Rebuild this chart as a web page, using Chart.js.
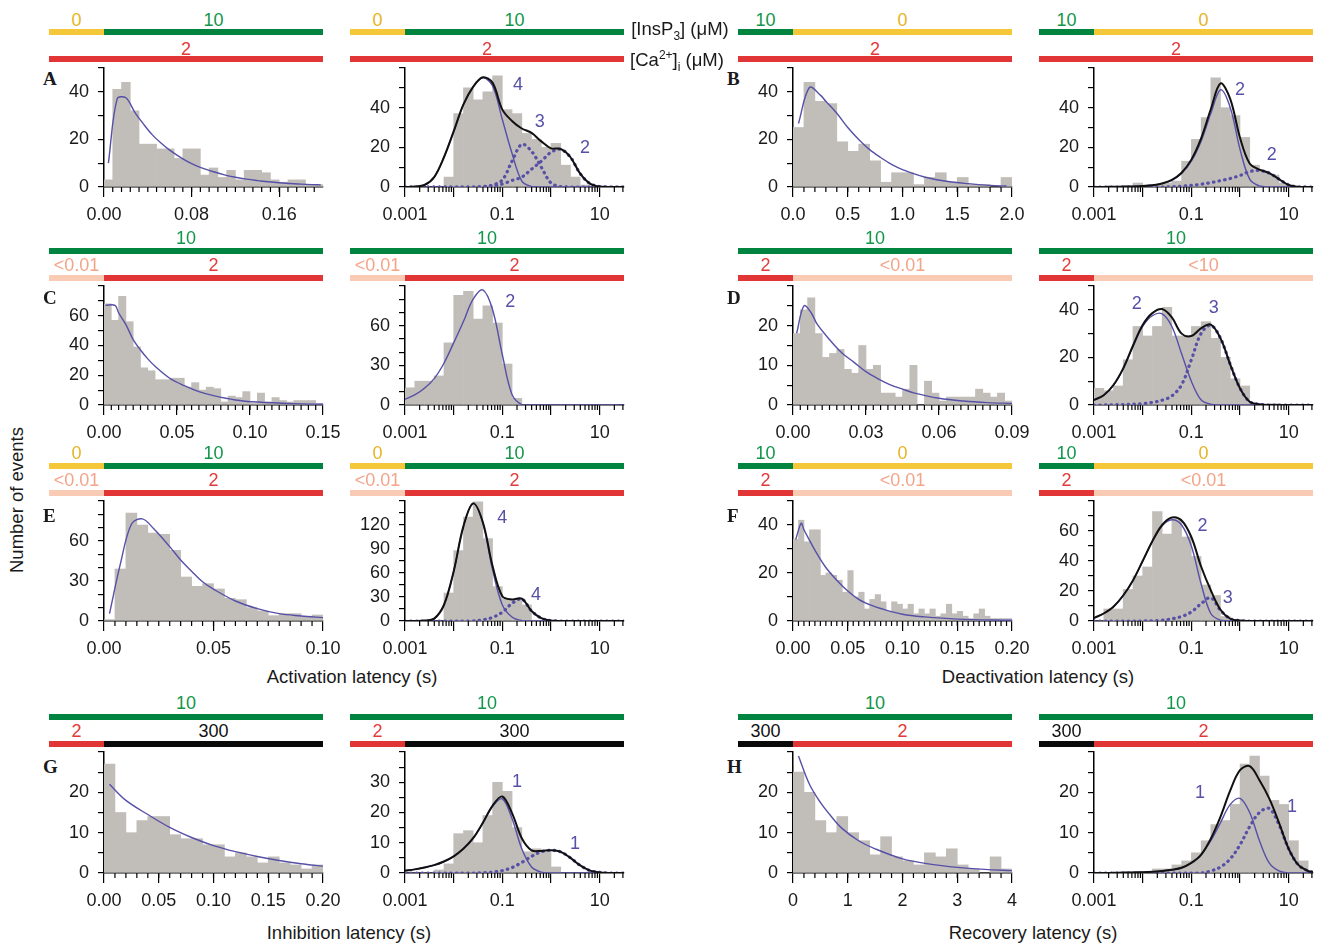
<!DOCTYPE html>
<html>
<head>
<meta charset="utf-8">
<title>Latency histograms</title>
<script src="https://cdn.jsdelivr.net/npm/chart.js@4.4.1/dist/chart.umd.min.js"></script>
<style>
  html, body { margin: 0; padding: 0; background: #fff; }
  body { position: relative; width: 1317px; height: 946px; overflow: hidden;
         font-family: "Liberation Sans", Arial, Helvetica, sans-serif; color: #1a1a1a; }
  canvas { position: absolute; }
  .bar { position: absolute; height: 6px; }
  .lab { position: absolute; font-size: 18px; line-height: 18px; transform: translate(-50%, -50%); white-space: nowrap; }
  .letter { position: absolute; font-family: "Liberation Serif", "Times New Roman", serif; font-weight: bold; font-size: 19px; line-height: 19px; }
  .title { position: absolute; font-size: 18.5px; line-height: 20px; transform: translate(-50%, -50%); white-space: nowrap; }
  .note { position: absolute; font-size: 18px; line-height: 18px; color: #5650a6; transform: translate(-50%, -50%); }
  sub, sup { font-size: 12px; line-height: 0; }
</style>
</head>
<body>
<script>
// shared log-axis grids (seconds)
const logBinX = [0.00126, 0.002, 0.00316, 0.00501, 0.00794, 0.0126, 0.02, 0.0316, 0.0501, 0.0794, 0.126,
                 0.2, 0.316, 0.501, 0.794, 1.26, 2, 3.16, 5.01, 7.94, 12.6, 20];
const logFitX = [0.001, 0.00158, 0.00251, 0.00398, 0.00631, 0.01, 0.0158, 0.0251, 0.0398, 0.0631, 0.1, 0.158,
                 0.251, 0.398, 0.631, 1, 1.58, 2.51, 3.98, 6.31, 10, 15.8, 25.1, 31.6];
const logTickVals = [0.001, 0.01, 0.1, 1, 10];
const logTickText = ['0.001', '', '0.1', '', '10'];

// A: activation, InsP3 0 -> 10, Ca 2
const a1BinX = [0.004, 0.012, 0.020, 0.028, 0.036, 0.044, 0.052, 0.060, 0.068, 0.076, 0.084, 0.092, 0.100,
                0.108, 0.116, 0.124, 0.132, 0.140, 0.148, 0.156, 0.164, 0.172, 0.180, 0.188, 0.196];
const a1Counts = [3, 41, 44, 32, 18, 18, 16, 16, 12, 16, 16, 5, 8, 4, 7, 3, 7, 7, 6, 3, 2, 3, 3, 1, 1];
const a1FitX = [0.004, 0.012, 0.020, 0.028, 0.036, 0.044, 0.052, 0.060, 0.068, 0.076, 0.084, 0.092, 0.100,
                0.110, 0.120, 0.130, 0.140, 0.150, 0.160, 0.170, 0.180, 0.190, 0.198];
const a1FitY = [10, 37, 37.5, 31.5, 26.5, 22, 18.5, 15.5, 13, 10.8, 9, 7.6, 6.4, 5.1, 4.1, 3.3, 2.7, 2.2, 1.8, 1.5, 1.2, 1.0, 0.9];
const a1TickVals = [0, 0.08, 0.16];
const a1TickText = ['0.00', '0.08', '0.16'];

const a2Counts = [0, 0, 0, 0, 5, 37, 50, 44, 48, 56, 39, 37, 27, 24, 20, 22, 11, 5, 1, 0, 0, 0];
const a2Fast = [0, 0.2, 1, 5, 15, 28, 41.5, 50.5, 55, 51, 34, 17, 3, 0.3, 0, 0, 0, 0, 0, 0, 0, 0, 0, 0];
const a2Mid = [0, 0, 0, 0, 0, 0, 0, 0, 0.2, 1, 3.5, 13, 21.5, 18, 10, 2, 0.2, 0, 0, 0, 0, 0, 0, 0];
const a2Slow = [0, 0, 0, 0, 0, 0, 0, 0, 0.1, 0.5, 1.5, 3.3, 5, 9, 13, 17.5, 19, 15, 6.7, 1.7, 0.2, 0, 0, 0];
const a2Total = [0, 0.2, 1, 5, 15, 28, 41.5, 50.5, 55.3, 52.5, 39, 33.3, 29.5, 27.3, 23, 19.5, 19.2, 15, 6.7, 1.7, 0.2, 0, 0, 0];

// B: deactivation, InsP3 10 -> 0, Ca 2
const b1BinX = [0.05, 0.15, 0.25, 0.35, 0.45, 0.55, 0.65, 0.75, 0.85, 0.95, 1.05, 1.15, 1.25, 1.35, 1.45,
                1.55, 1.65, 1.75, 1.85, 1.95];
const b1Counts = [25, 44, 36, 35, 19, 15, 18, 11, 2, 6, 6, 1, 4, 6, 2, 4, 1, 1, 0, 4];
const b1FitX = [0.05, 0.15, 0.25, 0.3, 0.4, 0.5, 0.6, 0.7, 0.8, 0.9, 1.0, 1.2, 1.4, 1.6, 1.8, 1.95];
const b1FitY = [26.7, 41.8, 38.6, 36, 31, 25, 20, 15.7, 12.4, 9.5, 7.3, 4.2, 2.4, 1.4, 0.7, 0.4];
const b1TickVals = [0, 0.5, 1, 1.5, 2];
const b1TickText = ['0.0', '0.5', '1.0', '1.5', '2.0'];

const b2Counts = [0, 0, 0, 0, 2, 1, 1, 2, 3, 13, 24, 35, 55, 40, 36, 25, 11, 8, 6, 2, 0, 0];
const b2Fast = [0, 0.05, 0.1, 0.2, 0.3, 0.5, 0.9, 1.8, 3.4, 6.8, 13, 23, 37, 49, 40, 19, 4, 0.5, 0, 0, 0, 0, 0, 0];
const b2Slow = [0, 0, 0, 0, 0, 0, 0, 0, 0.2, 0.4, 0.8, 1.4, 2.2, 3.2, 4.3, 5.8, 7.8, 8.3, 7, 4, 1, 0.1, 0, 0];
const b2Total = [0, 0.05, 0.1, 0.2, 0.3, 0.5, 0.9, 1.8, 3.6, 7.2, 13.8, 24.4, 39.2, 52.2, 44.3, 24.8, 11.8, 8.8, 7, 4, 1, 0.1, 0, 0];

// C: activation, InsP3 10, Ca <0.01 -> 2
const c1BinX = [0.0025, 0.0075, 0.0125, 0.0175, 0.0225, 0.0275, 0.0325, 0.0375, 0.0425, 0.0475, 0.0525,
                0.0575, 0.0625, 0.0675, 0.0725, 0.0775, 0.0825, 0.0875, 0.0925, 0.0975, 0.1025, 0.1075,
                0.1125, 0.1175, 0.1225, 0.1275, 0.1325, 0.1375, 0.1425, 0.1475];
const c1Counts = [68, 57, 73, 56, 39, 25, 23, 17, 17, 18, 18, 12, 15, 10, 12, 11, 2, 6, 5, 9, 1, 8, 2, 5, 3, 2, 3, 3, 3, 1];
const c1FitX = [0.001, 0.0075, 0.01, 0.015, 0.02, 0.025, 0.03, 0.035, 0.045, 0.055, 0.065, 0.075, 0.09, 0.105, 0.13, 0.15];
const c1FitY = [67, 67, 62, 54, 44, 37, 31, 26, 18, 13, 9, 6.3, 3.4, 2, 0.9, 0.5];
const c1TickVals = [0, 0.05, 0.1, 0.15];
const c1TickText = ['0.00', '0.05', '0.10', '0.15'];

const c2Counts = [13, 18, 18, 22, 47, 83, 86, 65, 75, 62, 31, 5, 0, 0, 0, 0, 0, 0, 0, 0, 0, 0];
const c2Fit = [4.3, 7.6, 12.7, 20, 31.6, 47, 63, 80, 87, 72, 38, 8, 0.3, 0, 0, 0, 0, 0, 0, 0, 0, 0, 0, 0];

// D: deactivation, InsP3 10, Ca 2 -> <0.01
const d1BinX = [0.0015, 0.0045, 0.0075, 0.0105, 0.0135, 0.0165, 0.0195, 0.0225, 0.0255, 0.0285, 0.0315,
                0.0345, 0.0375, 0.0405, 0.0435, 0.0465, 0.0495, 0.0525, 0.0555, 0.0585, 0.0615, 0.0645,
                0.0675, 0.0705, 0.0735, 0.0765, 0.0795, 0.0825, 0.0855, 0.0885];
const d1Counts = [18, 24, 27, 18, 12, 13, 14, 9, 8, 15, 9, 10, 3, 3, 2, 4, 10, 0, 6, 3, 1, 2, 2, 2, 2, 4, 3, 2, 3, 1];
const d1FitX = [0.0015, 0.0045, 0.0075, 0.01, 0.015, 0.02, 0.025, 0.03, 0.035, 0.04, 0.045, 0.05, 0.06, 0.07, 0.08, 0.09];
const d1FitY = [18.1, 25, 23.2, 20.3, 16.5, 13.2, 10.8, 8.4, 6.6, 5.1, 4, 3, 1.7, 1, 0.6, 0.4];
const d1TickVals = [0, 0.03, 0.06, 0.09];
const d1TickText = ['0.00', '0.03', '0.06', '0.09'];

const d2Counts = [7, 6, 8, 19, 33, 29, 33, 41, 29, 29, 33, 35, 28, 20, 11, 8, 0, 0, 0.6, 0, 0, 0];
const d2Fast = [2.1, 4.1, 8.3, 15.2, 24.5, 33, 37.5, 38.3, 33, 21.5, 10, 2.2, 0.3, 0, 0, 0, 0, 0, 0, 0, 0, 0, 0, 0];
const d2Slow = [0, 0, 0.1, 0.2, 0.4, 0.6, 1.1, 2, 3.8, 8.5, 19, 30, 33.5, 28, 17, 7, 1.4, 0.3, 0, 0, 0, 0, 0, 0];
const d2Total = [2.1, 4.1, 8.4, 15.4, 24.9, 33.6, 38.6, 40.3, 36.8, 30, 29, 32.2, 33.8, 28, 17, 7, 1.4, 0.3, 0, 0, 0, 0, 0, 0];

// E: activation, InsP3 0 -> 10, Ca <0.01 -> 2
const e1BinX = [0.0025, 0.0075, 0.0125, 0.0175, 0.0225, 0.0275, 0.0325, 0.0375, 0.0425, 0.0475, 0.0525,
                0.0575, 0.0625, 0.0675, 0.0725, 0.0775, 0.0825, 0.0875, 0.0925, 0.0975];
const e1Counts = [1, 39, 81, 72, 66, 65, 53, 33, 26, 28, 24, 17, 16, 10, 7.5, 4, 5.5, 5.5, 3, 4.5];
const e1FitX = [0.0025, 0.0075, 0.0125, 0.0175, 0.0225, 0.03, 0.035, 0.04, 0.045, 0.05, 0.06, 0.07, 0.08, 0.09, 0.1];
const e1FitY = [5.5, 43, 72.6, 76.6, 69.6, 55.8, 45.7, 37.4, 29.4, 23.9, 15, 9.3, 5.5, 3.8, 2.5];
const e1TickVals = [0, 0.05, 0.1];
const e1TickText = ['0.00', '0.05', '0.10'];

const e2Counts = [0, 0, 0, 0, 35, 88, 130, 149, 103, 43, 27, 27, 20, 1, 0, 0, 0, 0, 0, 0, 0, 0];
const e2Fast = [0, 0.1, 0.5, 3, 20, 62, 118, 147, 122, 64, 20, 5, 0.5, 0, 0, 0, 0, 0, 0, 0, 0, 0, 0, 0];
const e2Slow = [0, 0, 0, 0, 0, 0, 0, 0, 1.5, 4.5, 11, 22, 27.5, 12.5, 3.5, 0.5, 0, 0, 0, 0, 0, 0, 0, 0];
const e2Total = [0, 0.1, 0.5, 3, 20, 62, 118, 147, 123.5, 68.5, 31, 27, 28, 12.5, 3.5, 0.5, 0, 0, 0, 0, 0, 0, 0, 0];

// F: deactivation, InsP3 10 -> 0, Ca 2 -> <0.01
const f1BinX = [0.0025, 0.0075, 0.0125, 0.0175, 0.0225, 0.0275, 0.0325, 0.0375, 0.0425, 0.0475, 0.0525,
                0.0575, 0.0625, 0.0675, 0.0725, 0.0775, 0.0825, 0.0875, 0.0925, 0.0975, 0.1025, 0.1075,
                0.1125, 0.1175, 0.1225, 0.1275, 0.1325, 0.1375, 0.1425, 0.1475, 0.1525, 0.1575, 0.1625,
                0.1675, 0.1725, 0.1775, 0.1825, 0.1875, 0.1925, 0.1975];
const f1Counts = [34, 42, 33, 38, 38, 19, 20, 19, 17, 12, 21, 10, 12, 5, 9, 11, 8, 4, 8, 7, 5, 7, 3, 5, 3,
                  5, 2, 3, 7, 3, 4, 2, 1, 3, 5, 2, 1, 1, 1, 1];
const f1FitX = [0.0025, 0.0075, 0.01, 0.015, 0.02, 0.03, 0.04, 0.05, 0.06, 0.07, 0.08, 0.1, 0.12, 0.15, 0.2];
const f1FitY = [34, 40.7, 38, 33.7, 29.5, 22.3, 17, 12.5, 9, 6.8, 5.2, 2.8, 1.7, 0.8, 0.3];
const f1TickVals = [0, 0.05, 0.1, 0.15, 0.2];
const f1TickText = ['0.00', '0.05', '0.10', '0.15', '0.20'];

const f2Counts = [0, 8, 8, 21, 30, 36, 73, 58, 68, 56, 43, 24, 17, 3, 0, 0, 0, 0, 0, 0, 0, 0];
const f2Fast = [2, 5, 9.5, 17, 27, 40, 53, 63.5, 67.5, 64, 50, 25, 5, 0.5, 0, 0, 0, 0, 0, 0, 0, 0, 0, 0];
const f2Slow = [0, 0, 0, 0, 0, 0, 0.2, 0.5, 1.5, 3, 6, 11.5, 15.5, 7, 1.5, 0.3, 0, 0, 0, 0, 0, 0, 0, 0];
const f2Total = [2, 5, 9.5, 17, 27, 40, 53.2, 64, 69, 67, 56, 36.5, 20.5, 7.5, 1.5, 0.3, 0, 0, 0, 0, 0, 0, 0, 0];

// G: inhibition, InsP3 10, Ca 2 -> 300
const g1BinX = [0.005, 0.015, 0.025, 0.035, 0.045, 0.055, 0.065, 0.075, 0.085, 0.095, 0.105, 0.115, 0.125,
                0.135, 0.145, 0.155, 0.165, 0.175, 0.185, 0.195];
const g1Counts = [27, 15, 10, 13, 14, 14, 9.5, 8.5, 8.5, 7, 7, 4, 5, 4, 2.5, 4, 2.5, 2, 1, 2];
const g1FitX = [0.005, 0.02, 0.04, 0.06, 0.08, 0.1, 0.12, 0.14, 0.16, 0.18, 0.2];
const g1FitY = [22, 18, 14.5, 11.3, 8.8, 6.8, 5.3, 4.1, 3.1, 2.3, 1.7];
const g1TickVals = [0, 0.05, 0.1, 0.15, 0.2];
const g1TickText = ['0.00', '0.05', '0.10', '0.15', '0.20'];

const g2Counts = [0, 0, 0, 1, 3, 13, 14, 10, 19, 30, 27, 15, 7, 8, 7, 2, 0, 0, 0, 0, 0, 0];
const g2Fast = [0.8, 1.2, 1.8, 2.6, 3.8, 5.5, 8, 11.5, 16.5, 22, 24.5, 18, 8, 2, 0.3, 0, 0, 0, 0, 0, 0, 0, 0, 0];
const g2Slow = [0, 0, 0, 0, 0, 0, 0, 0, 0.1, 0.3, 0.8, 1.8, 3.5, 5.5, 7, 7.5, 7, 5, 2.5, 0.8, 0.2, 0, 0, 0];
const g2Total = [0.8, 1.2, 1.8, 2.6, 3.8, 5.5, 8, 11.5, 16.6, 22.3, 25.3, 19.8, 11.5, 7.5, 7.3, 7.5, 7, 5, 2.5, 0.8, 0.2, 0, 0, 0];

// H: recovery, InsP3 10, Ca 300 -> 2
const h1BinX = [0.1, 0.3, 0.5, 0.7, 0.9, 1.1, 1.3, 1.5, 1.7, 1.9, 2.1, 2.3, 2.5, 2.7, 2.9, 3.1, 3.3, 3.5, 3.7, 3.9];
const h1Counts = [25, 20, 13, 10, 14, 10, 8, 4.5, 9, 4, 3, 2, 5, 4, 6, 2, 1, 0, 4, 1];
const h1FitX = [0.1, 0.3, 0.5, 0.7, 0.9, 1.2, 1.5, 2, 2.5, 3, 3.5, 4];
const h1FitY = [29, 22, 17.5, 14, 11, 8, 6, 3.5, 2.2, 1.4, 0.9, 0.6];
const h1TickVals = [0, 1, 2, 3, 4];
const h1TickText = ['0', '1', '2', '3', '4'];

const h2Counts = [0, 0, 0, 0, 0, 0, 1, 1, 2, 3, 5, 8, 12, 13, 17, 27, 29, 24, 18, 17, 8, 3];
const h2Fast = [0, 0, 0.05, 0.1, 0.15, 0.2, 0.3, 0.5, 0.8, 1.3, 2.5, 4.5, 8, 12.5, 17, 18.5, 15, 8, 2.5, 0.5, 0, 0, 0, 0];
const h2Slow = [0, 0, 0, 0, 0, 0, 0, 0, 0, 0, 0, 0, 0.5, 1.5, 3.5, 7, 11.5, 15, 16, 12, 6, 2, 0.5, 0.2];
const h2Total = [0, 0, 0.05, 0.1, 0.15, 0.2, 0.3, 0.5, 0.8, 1.3, 2.5, 4.5, 8.5, 14, 20.5, 25.5, 26.5, 23, 18.5, 12.5, 6, 2, 0.5, 0.2];

// condition bars: [span, label, colour]
const condA = [[['pre', '0', 'Y'], ['post', '10', 'G']], [['all', '2', 'R']]];
const condB = [[['pre', '10', 'G'], ['post', '0', 'Y']], [['all', '2', 'R']]];
const condC = [[['all', '10', 'G']], [['pre', '<0.01', 'P'], ['post', '2', 'R']]];
const condD1 = [[['all', '10', 'G']], [['pre', '2', 'R'], ['post', '<0.01', 'P']]];
const condD2 = [[['all', '10', 'G']], [['pre', '2', 'R'], ['post', '<10', 'P']]];
const condE = [[['pre', '0', 'Y'], ['post', '10', 'G']], [['pre', '<0.01', 'P'], ['post', '2', 'R']]];
const condF = [[['pre', '10', 'G'], ['post', '0', 'Y']], [['pre', '2', 'R'], ['post', '<0.01', 'P']]];
const condG = [[['all', '10', 'G']], [['pre', '2', 'R'], ['post', '300', 'K']]];
const condH = [[['all', '10', 'G']], [['pre', '300', 'K'], ['post', '2', 'R']]];

const BAR_COL = { Y: '#f5c83a', G: '#00843f', R: '#e23636', P: '#f9cab4', K: '#0a0a0a' };
const TXT_COL = { Y: '#e6b422', G: '#12964a', R: '#e23a3a', P: '#f3a489', K: '#111111' };

const COL_LEFT = [104, 405, 793, 1094];
const PLOT_W = 219;
const ROWS = [
  { top: 68, bottom: 187, bars: [32, 59], labs: [19.5, 48.5], letterY: 69 },
  { top: 286, bottom: 405, bars: [250.5, 278], labs: [237.5, 265], letterY: 288 },
  { top: 501, bottom: 621, bars: [465.7, 492.7], labs: [452.7, 480], letterY: 506 },
  { top: 752, bottom: 873, bars: [716.5, 744], labs: [703, 731], letterY: 757 }
];

const lin = (xMax, minor, tv, tt) => ({ log: false, xMax, minor, tv, tt });
const lg = { log: true, xMax: 31.6, tv: logTickVals, tt: logTickText };

const panels = [
  { col: 0, row: 0, letter: 'A', ax: lin(0.2, 0.008, a1TickVals, a1TickText), yMax: 50, yStep: 10, yLab: [0, 20, 40],
    binX: a1BinX, counts: a1Counts, lines: [[a1FitX, a1FitY, 'blue']], cond: condA, notes: [] },
  { col: 1, row: 0, ax: lg, yMax: 60, yStep: 10, yLab: [0, 20, 40],
    binX: logBinX, counts: a2Counts,
    lines: [[logFitX, a2Mid, 'dots'], [logFitX, a2Slow, 'dots'], [logFitX, a2Fast, 'blue'], [logFitX, a2Total, 'black']],
    cond: condA, notes: [[0.21, 52, '4'], [0.59, 33.5, '3'], [5.0, 20, '2']] },
  { col: 2, row: 0, letter: 'B', ax: lin(2, 0.1, b1TickVals, b1TickText), yMax: 50, yStep: 10, yLab: [0, 20, 40],
    binX: b1BinX, counts: b1Counts, lines: [[b1FitX, b1FitY, 'blue']], cond: condB, notes: [] },
  { col: 3, row: 0, ax: lg, yMax: 60, yStep: 10, yLab: [0, 20, 40],
    binX: logBinX, counts: b2Counts,
    lines: [[logFitX, b2Slow, 'dots'], [logFitX, b2Fast, 'blue'], [logFitX, b2Total, 'black']],
    cond: condB, notes: [[1.0, 49.5, '2'], [4.5, 16.5, '2']] },

  { col: 0, row: 1, letter: 'C', ax: lin(0.15, 0.005, c1TickVals, c1TickText), yMax: 80, yStep: 10, yLab: [0, 20, 40, 60],
    binX: c1BinX, counts: c1Counts, lines: [[c1FitX, c1FitY, 'blue']], cond: condC, notes: [] },
  { col: 1, row: 1, ax: lg, yMax: 90, yStep: 10, yLab: [0, 30, 60],
    binX: logBinX, counts: c2Counts, lines: [[logFitX, c2Fit, 'blue']], cond: condC, notes: [[0.145, 78.6, '2']] },
  { col: 2, row: 1, letter: 'D', ax: lin(0.09, 0.003, d1TickVals, d1TickText), yMax: 30, yStep: 5, yLab: [0, 10, 20],
    binX: d1BinX, counts: d1Counts, lines: [[d1FitX, d1FitY, 'blue']], cond: condD1, notes: [] },
  { col: 3, row: 1, ax: lg, yMax: 50, yStep: 10, yLab: [0, 20, 40],
    binX: logBinX, counts: d2Counts,
    lines: [[logFitX, d2Slow, 'dots'], [logFitX, d2Fast, 'blue'], [logFitX, d2Total, 'black']],
    cond: condD2, notes: [[0.0076, 43, '2'], [0.29, 41, '3']] },

  { col: 0, row: 2, letter: 'E', ax: lin(0.1, 0.005, e1TickVals, e1TickText), yMax: 90, yStep: 10, yLab: [0, 30, 60],
    binX: e1BinX, counts: e1Counts, lines: [[e1FitX, e1FitY, 'blue']], cond: condE, notes: [] },
  { col: 1, row: 2, ax: lg, yMax: 150, yStep: 15, yLab: [0, 30, 60, 90, 120],
    binX: logBinX, counts: e2Counts,
    lines: [[logFitX, e2Slow, 'dots'], [logFitX, e2Fast, 'blue'], [logFitX, e2Total, 'black']],
    cond: condE, notes: [[0.1, 130, '4'], [0.49, 34, '4']] },
  { col: 2, row: 2, letter: 'F', ax: lin(0.2, 0.005, f1TickVals, f1TickText), yMax: 50, yStep: 10, yLab: [0, 20, 40],
    binX: f1BinX, counts: f1Counts, lines: [[f1FitX, f1FitY, 'blue']], cond: condF, notes: [] },
  { col: 3, row: 2, ax: lg, yMax: 80, yStep: 10, yLab: [0, 20, 40, 60],
    binX: logBinX, counts: f2Counts,
    lines: [[logFitX, f2Slow, 'dots'], [logFitX, f2Fast, 'blue'], [logFitX, f2Total, 'black']],
    cond: condF, notes: [[0.17, 64, '2'], [0.56, 16, '3']] },

  { col: 0, row: 3, letter: 'G', ax: lin(0.2, 0.01, g1TickVals, g1TickText), yMax: 30, yStep: 5, yLab: [0, 10, 20],
    binX: g1BinX, counts: g1Counts, lines: [[g1FitX, g1FitY, 'blue']], cond: condG, notes: [] },
  { col: 1, row: 3, ax: lg, yMax: 40, yStep: 5, yLab: [0, 10, 20, 30],
    binX: logBinX, counts: g2Counts,
    lines: [[logFitX, g2Slow, 'dots'], [logFitX, g2Fast, 'blue'], [logFitX, g2Total, 'black']],
    cond: condG, notes: [[0.2, 30.3, '1'], [3.1, 10, '1']] },
  { col: 2, row: 3, letter: 'H', ax: lin(4, 0.2, h1TickVals, h1TickText), yMax: 30, yStep: 5, yLab: [0, 10, 20],
    binX: h1BinX, counts: h1Counts, lines: [[h1FitX, h1FitY, 'blue']], cond: condH, notes: [] },
  { col: 3, row: 3, ax: lg, yMax: 30, yStep: 5, yLab: [0, 10, 20],
    binX: logBinX, counts: h2Counts,
    lines: [[logFitX, h2Slow, 'dots'], [logFitX, h2Fast, 'blue'], [logFitX, h2Total, 'black']],
    cond: condH, notes: [[0.15, 20, '1'], [11.7, 16.5, '1']] }
];

const FONT = '"Liberation Sans", Arial, Helvetica, sans-serif';
const PAD_L = 56, PAD_T = 24, PAD_R = 34, PAD_B = 42;

const LINE_STYLE = {
  black: { borderColor: '#111111', borderWidth: 2 },
  blue:  { borderColor: '#5650a6', borderWidth: 1.4 },
  dots:  { borderColor: '#5650a6', borderWidth: 3.2, borderDash: [0.5, 5.2], borderCapStyle: 'round' }
};

// short unlabeled ticks between the labelled ones on the x axis
const minorTicks = {
  id: 'minorTicks',
  afterDraw(chart, args, opts) {
    const xs = chart.scales.x, area = chart.chartArea, ctx = chart.ctx;
    ctx.save();
    ctx.strokeStyle = '#000';
    ctx.lineWidth = 1.2;
    for (const v of opts.values || []) {
      const px = xs.getPixelForValue(v);
      if (px < area.left - 0.5 || px > area.right + 0.5) continue;
      ctx.beginPath();
      ctx.moveTo(px, area.bottom);
      ctx.lineTo(px, area.bottom + 5);
      ctx.stroke();
    }
    ctx.restore();
  }
};

function addDiv(cls, html, left, top, extra) {
  const d = document.createElement('div');
  d.className = cls;
  d.innerHTML = html;
  d.style.left = left + 'px';
  d.style.top = top + 'px';
  if (extra) Object.assign(d.style, extra);
  document.body.appendChild(d);
  return d;
}

function minorValues(ax) {
  const out = [];
  if (ax.log) {
    for (let d = -3; d <= 1; d++) {
      for (let m = 2; m <= 9; m++) out.push(m * Math.pow(10, d));
    }
  } else {
    const n = Math.round(ax.xMax / ax.minor);
    for (let i = 1; i < n; i++) out.push(+(i * ax.minor).toFixed(6));
  }
  return out;
}

function esc(s) { return s.replace(/</g, '&lt;'); }

panels.forEach(p => {
  const left = COL_LEFT[p.col], row = ROWS[p.row];
  const plotH = row.bottom - row.top;

  // condition bars above the panel
  const barL = left - 55, barR = left + PLOT_W;
  p.cond.forEach((segs, r) => {
    segs.forEach(([span, label, c]) => {
      const x0 = span === 'post' ? left : barL;
      const x1 = span === 'pre' ? left : barR;
      addDiv('bar', '', x0, row.bars[r] - 3, { width: (x1 - x0) + 'px', background: BAR_COL[c] });
      addDiv('lab', esc(label), (x0 + x1) / 2, row.labs[r], { color: TXT_COL[c] });
    });
  });
  if (p.letter) addDiv('letter', p.letter, p.col === 0 ? 43 : 727, row.letterY);

  const cv = document.createElement('canvas');
  const W = PLOT_W + PAD_L + PAD_R, H = plotH + PAD_T + PAD_B;
  cv.width = W; cv.height = H;
  cv.style.left = (left - PAD_L) + 'px';
  cv.style.top = (row.top - PAD_T) + 'px';
  document.body.appendChild(cv);

  const datasets = [{
    type: 'bar',
    data: p.binX.map((x, i) => ({ x, y: p.counts[i] })),
    backgroundColor: '#c1bdb9',
    borderWidth: 0,
    barPercentage: 1,
    categoryPercentage: 1,
    order: 5
  }];
  p.lines.forEach(([xs, ys, kind]) => {
    datasets.push(Object.assign({
      type: 'line',
      data: xs.map((x, j) => ({ x, y: ys[j] })),
      pointRadius: 0,
      fill: false,
      tension: 0.35,
      order: kind === 'black' ? 0 : kind === 'blue' ? 1 : 2
    }, LINE_STYLE[kind]));
  });

  const ax = p.ax;
  const chart = new Chart(cv, {
    type: 'bar',
    data: { datasets },
    options: {
      responsive: false,
      animation: false,
      devicePixelRatio: 1,
      layout: { padding: { left: 0, top: PAD_T, right: PAD_R, bottom: 0 } },
      plugins: { legend: { display: false }, tooltip: { enabled: false }, minorTicks: { values: minorValues(ax) } },
      scales: {
        x: {
          type: ax.log ? 'logarithmic' : 'linear',
          min: ax.log ? 0.001 : 0,
          max: ax.xMax,
          offset: false,
          afterFit: s => { s.height = PAD_B; },
          afterBuildTicks: s => { s.ticks = ax.tv.map(v => ({ value: v })); },
          ticks: {
            callback: (v, i) => ax.tt[i],
            autoSkip: false, maxRotation: 0, padding: 7,
            color: '#1a1a1a', font: { family: FONT, size: 18 }
          },
          grid: { display: true, drawOnChartArea: false, drawTicks: true, tickLength: 10, offset: false,
                  color: '#000', lineWidth: 1.2 },
          border: { display: true, color: '#000', width: 1.5 }
        },
        y: {
          type: 'linear',
          min: 0,
          max: p.yMax,
          afterFit: s => { s.width = PAD_L; },
          afterBuildTicks: s => {
            const t = [];
            for (let v = 0; v <= p.yMax + 1e-9; v += p.yStep) t.push({ value: v });
            s.ticks = t;
          },
          ticks: {
            callback: v => (p.yLab.includes(v) ? String(v) : ''),
            autoSkip: false, padding: 9,
            color: '#1a1a1a', font: { family: FONT, size: 18 }
          },
          grid: { display: true, drawOnChartArea: false, drawTicks: true, tickLength: 6,
                  color: '#000', lineWidth: 1.2 },
          border: { display: true, color: '#000', width: 1.5 }
        }
      }
    },
    plugins: [minorTicks]
  });

  // component numbers placed in data coordinates
  p.notes.forEach(([xv, yv, txt]) => {
    const px = chart.scales.x.getPixelForValue(xv) + left - PAD_L;
    const py = chart.scales.y.getPixelForValue(yv) + row.top - PAD_T;
    addDiv('note', txt, px, py);
  });
});

// shared labels
addDiv('title', '[InsP<sub>3</sub>] (&mu;M)', 680, 29);
addDiv('title', '[Ca<sup>2+</sup>]<sub>i</sub> (&mu;M)', 677, 60);
addDiv('title', 'Activation latency (s)', 352, 677);
addDiv('title', 'Deactivation latency (s)', 1038, 677);
addDiv('title', 'Inhibition latency (s)', 349, 933);
addDiv('title', 'Recovery latency (s)', 1033, 933);
addDiv('title', 'Number of events', 17, 500, { transform: 'translate(-50%, -50%) rotate(-90deg)' });
</script>
</body>
</html>
